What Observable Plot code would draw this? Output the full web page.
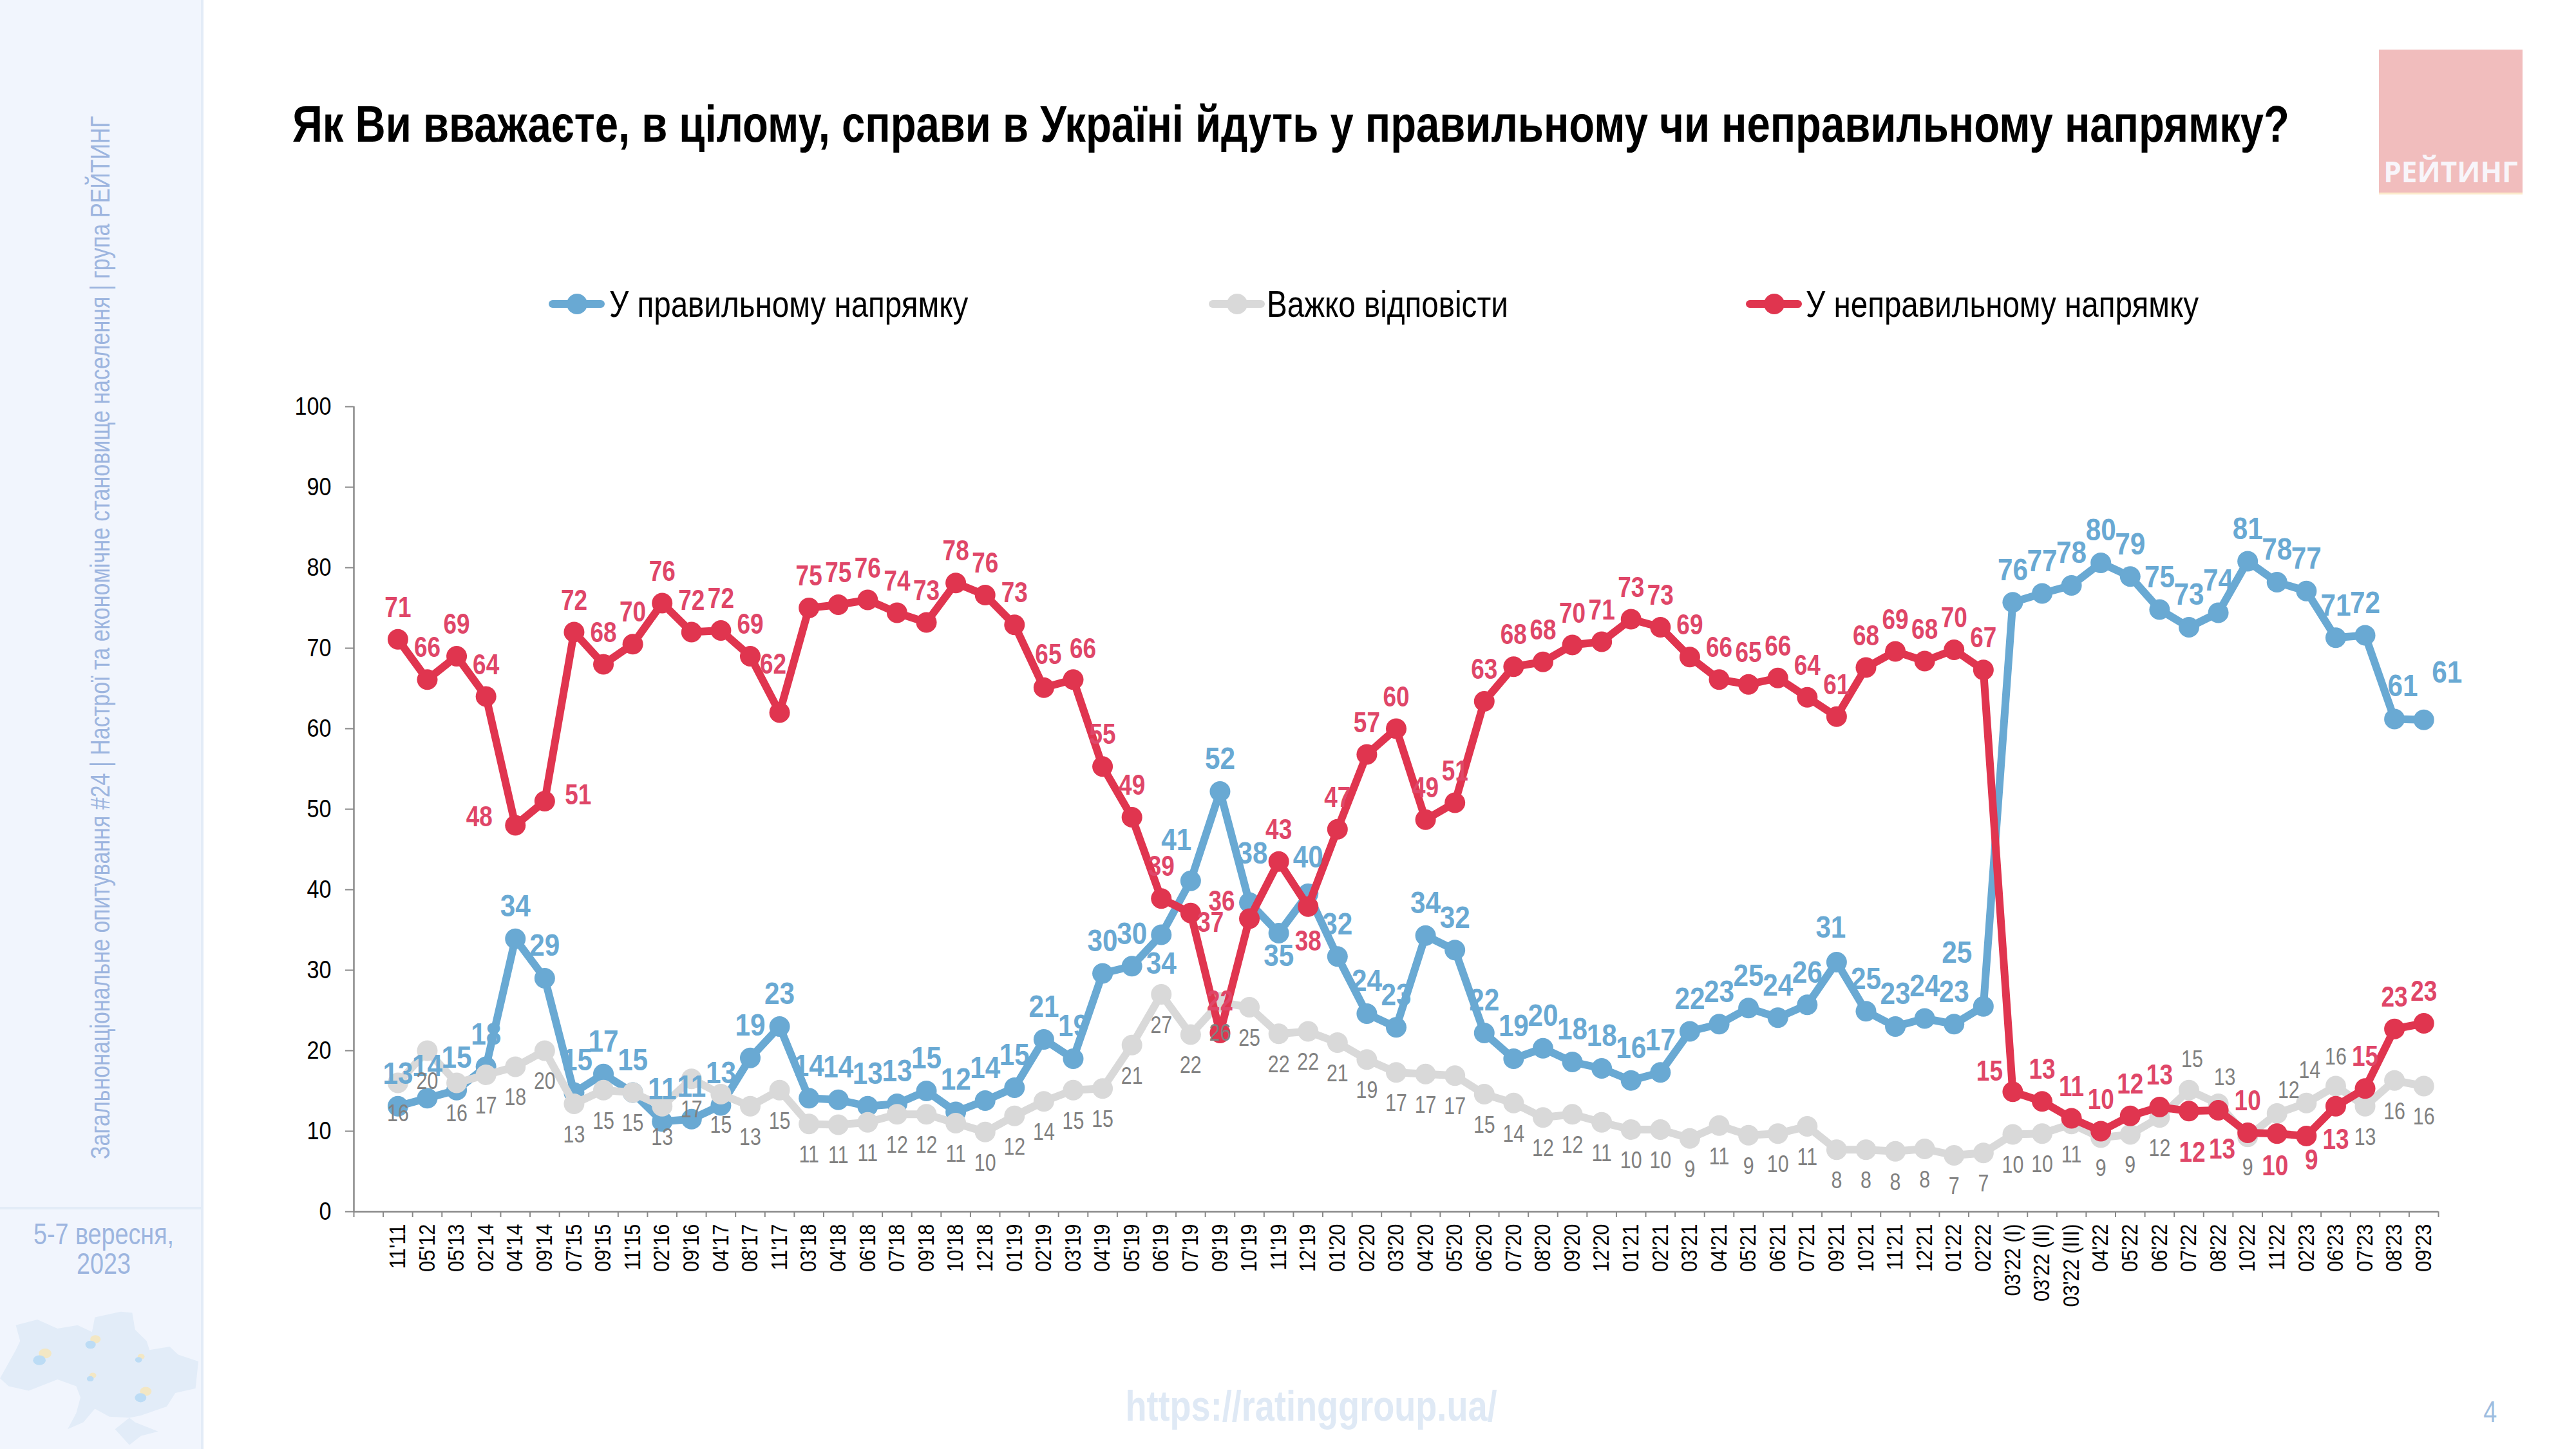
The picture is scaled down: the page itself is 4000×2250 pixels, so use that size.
<!DOCTYPE html>
<html>
<head>
<meta charset="utf-8">
<script src="https://cdn.jsdelivr.net/npm/d3@7"></script>
<script src="https://cdn.jsdelivr.net/npm/@observablehq/plot@0.6"></script>
<style>
  html, body { margin: 0; padding: 0; background: #fff; }
  body { width: 4000px; height: 2250px; position: relative; overflow: hidden; font-family: "Liberation Sans", sans-serif; }
  .abs { position: absolute; white-space: nowrap; }
  .narrow { transform-origin: left center; transform: scaleX(0.82); }
  #plot { position: absolute; left: 0; top: 600px; }
  #side { position: absolute; left: 0; top: 0; width: 312px; height: 2250px; background: #f1f5fd; border-right: 4px solid #e3ecf7; }
  #rule { position: absolute; left: 0; top: 1874px; width: 312px; height: 4px; background: #e3ecf7; }
  .swatch { position: absolute; width: 87px; height: 12px; top: 466px; border-radius: 6px; }
  .swatch i { position: absolute; left: 28px; top: -10px; width: 32px; height: 32px; border-radius: 50%; background: inherit; }
  .legend { top: 439px; font-size: 58px; line-height: 66px; color: #000; }
</style>
</head>
<body>
<div id="side"></div>
<div id="rule"></div>
<div class="abs" style="left:156px; top:990px; font-size:42px; color:#9db5df; transform:translate(-50%,-50%) rotate(-90deg) scaleX(0.81);">Загальнонаціональне опитування #24 | Настрої та економічне становище населення | група РЕЙТИНГ</div>
<div class="abs" style="left:0; width:322px; top:1893px; text-align:center; font-size:46px; line-height:46px; color:#9db5df; transform:scaleX(0.82);">5-7 вересня,<br>2023</div>
<svg class="abs" style="left:0; top:1700px;" width="700" height="550" viewBox="0 0 1568 1568" preserveAspectRatio="none">
  <path fill="#e2ecf8" d="M0 1255L55 1130L70 1090L55 1020L130 995L200 1035L270 1020L320 1050L330 985L420 960L460 965L470 1040L510 1090L520 1130L590 1115L620 1150L690 1180L680 1300L610 1320L580 1380L490 1420L450 1430L470 1450L550 1490L490 1510L450 1550L400 1480L450 1430L380 1425L330 1390L290 1450L235 1480L265 1410L280 1340L265 1290L200 1260L100 1310L30 1290Z"/>
  <ellipse cx="157" cy="1145" rx="22" ry="22" fill="#f3e7c4"/><ellipse cx="137" cy="1175" rx="22" ry="22" fill="#bcdcf5"/>
  <ellipse cx="332" cy="1082" rx="18" ry="18" fill="#f3e7c4"/><ellipse cx="315" cy="1106" rx="18" ry="18" fill="#bcdcf5"/>
  <ellipse cx="491" cy="1159" rx="12" ry="12" fill="#f3e7c4"/><ellipse cx="482" cy="1173" rx="12" ry="12" fill="#bcdcf5"/>
  <ellipse cx="323" cy="1242" rx="12" ry="12" fill="#f3e7c4"/><ellipse cx="314" cy="1257" rx="12" ry="12" fill="#bcdcf5"/>
  <ellipse cx="507" cy="1313" rx="20" ry="20" fill="#f3e7c4"/><ellipse cx="489" cy="1341" rx="20" ry="20" fill="#bcdcf5"/>
</svg>

<div class="abs" style="left:454px; top:148px; font-size:80px; line-height:90px; font-weight:bold; color:#000; transform-origin:left center; transform:scaleX(0.815);">Як Ви вважаєте, в цілому, справи в Україні йдуть у правильному чи неправильному напрямку?</div>

<div class="abs" style="left:3694px; top:77px; width:223px; height:222px; background:#f1bdbd; border-bottom:3px solid #fcebcb;"></div>
<div class="abs" style="left:3694px; width:223px; top:241px; text-align:center; font-family:'Open Sans',sans-serif; font-weight:bold; font-size:44px; line-height:50px; color:#f8f5fa;">РЕЙТИНГ</div>

<div class="swatch" style="left:852px; background:#69a9d3;"><i></i></div>
<div class="abs narrow legend" style="left:946px;">У правильному напрямку</div>
<div class="swatch" style="left:1877px; background:#d9d9d9;"><i></i></div>
<div class="abs narrow legend" style="left:1967px;">Важко відповісти</div>
<div class="swatch" style="left:2711px; background:#e0354f;"><i></i></div>
<div class="abs narrow legend" style="left:2804px;">У неправильному напрямку</div>

<div id="plot"></div>

<div class="abs" style="left:2036px; top:2147px; transform:translateX(-50%) scaleX(0.82); font-size:66px; line-height:72px; font-weight:bold; color:#dfe9f5;">https://ratinggroup.ua/</div>
<div class="abs" style="left:3854px; top:2167px; font-size:46px; line-height:50px; color:#9dbde0; transform:scaleX(0.82);">4</div>

<script>
const periods = [
  "11'11", "05'12", "05'13", "02'14", "04'14", "09'14", "07'15", "09'15", "11'15", "02'16",
  "09'16", "04'17", "08'17", "11'17", "03'18", "04'18", "06'18", "07'18", "09'18", "10'18",
  "12'18", "01'19", "02'19", "03'19", "04'19", "05'19", "06'19", "07'19", "09'19", "10'19",
  "11'19", "12'19", "01'20", "02'20", "03'20", "04'20", "05'20", "06'20", "07'20", "08'20",
  "09'20", "12'20", "01'21", "02'21", "03'21", "04'21", "05'21", "06'21", "07'21", "09'21",
  "10'21", "11'21", "12'21", "01'22", "02'22", "03'22 (I)", "03'22 (II)", "03'22 (III)", "04'22", "05'22",
  "06'22", "07'22", "08'22", "10'22", "11'22", "02'23", "06'23", "07'23", "08'23", "09'23"
];

const rightValues = [
  13.1, 14.1, 15.1, 18, 33.9, 29, 14.8, 17.1, 14.8, 11.2, 11.5, 13.2, 19.1, 23, 14.1, 13.9, 13.1, 13.4,
  15, 12.4, 13.8, 15.4, 21.4, 19, 29.6, 30.5, 34.4, 41.1, 52.2, 38.4, 34.6, 39.5, 31.7, 24.6, 22.9, 34.3, 32.5, 22.2, 19, 20.3,
  18.6, 17.8, 16.3, 17.3, 22.4, 23.3, 25.3, 24.1, 25.7, 31, 24.9, 23, 24, 23.3, 25.5,
  75.7, 76.8, 77.8, 80.6, 78.9, 74.8, 72.6, 74.4, 80.8, 78.2, 77.1, 71.3, 71.6, 61.2, 61.1
];
const rightLabels = [
  13, 14, 15, 18, 34, 29, 15, 17, 15, 11, 11, 13, 19, 23, 14, 14, 13, 13,
  15, 12, 14, 15, 21, 19, 30, 30, 34, 41, 52, 38, 35, 40, 32, 24, 23, 34, 32, 22, 19, 20,
  18, 18, 16, 17, 22, 23, 25, 24, 26, 31, 25, 23, 24, 23, 25,
  76, 77, 78, 80, 79, 75, 73, 74, 81, 78, 77, 71, 72, 61, 61
];

const hardValues = [
  16, 20, 16, 17, 18, 20, 13.4, 15.1, 14.8, 13.1, 16.5, 14.6, 13.1, 15.1, 10.9, 10.8, 11.1, 12.1,
  12.1, 11, 9.9, 11.9, 13.7, 15.1, 15.3, 20.7, 27, 22, 26, 25.4, 22.1, 22.4, 21, 18.9, 17.3, 17.1, 16.9, 14.6, 13.5, 11.7,
  12.1, 11.1, 10.2, 10.2, 9.1, 10.7, 9.5, 9.7, 10.6, 7.7, 7.7, 7.5, 7.8, 7, 7.3,
  9.6, 9.7, 10.9, 9.2, 9.6, 11.7, 15.1, 13.4, 9.3, 12.2, 13.5, 15.6, 13.1, 16.3, 15.6
];
const hardLabels = [
  16, 20, 16, 17, 18, 20, 13, 15, 15, 13, 17, 15, 13, 15, 11, 11, 11, 12,
  12, 11, 10, 12, 14, 15, 15, 21, 27, 22, 26, 25, 22, 22, 21, 19, 17, 17, 17, 15, 14, 12,
  12, 11, 10, 10, 9, 11, 9, 10, 11, 8, 8, 8, 8, 7, 7,
  10, 10, 11, 9, 9, 12, 15, 13, 9, 12, 14, 16, 13, 16, 16
];

const wrongValues = [
  71.1, 66.1, 69, 64, 48, 51, 72, 68, 70.5, 75.6, 72, 72.2, 69, 62, 75, 75.4, 76, 74.4,
  73.2, 78.1, 76.6, 72.9, 65.1, 66.1, 55.3, 49, 38.9, 37.1, 22.2, 36.4, 43.5, 37.9, 47.5, 56.8, 60, 48.7, 50.8, 63.4, 67.7, 68.3,
  70.4, 70.8, 73.6, 72.6, 68.9, 66.1, 65.5, 66.3, 63.9, 61.5, 67.6, 69.6, 68.4, 69.8, 67.3,
  14.9, 13.7, 11.6, 10, 11.9, 13, 12.5, 12.6, 9.8, 9.7, 9.4, 13.1, 15.3, 22.7, 23.4
];
const wrongLabels = [
  71, 66, 69, 64, 48, 51, 72, 68, 70, 76, 72, 72, 69, 62, 75, 75, 76, 74,
  73, 78, 76, 73, 65, 66, 55, 49, 39, 37, 22, 36, 43, 38, 47, 57, 60, 49, 51, 63, 68, 68,
  70, 71, 73, 73, 69, 66, 65, 66, 64, 61, 68, 69, 68, 70, 67,
  15, 13, 11, 10, 12, 13, 12, 13, 10, 10, 9, 13, 15, 23, 23
];

// labels the original moved by hand, [dx, dy] in px from the default spot
const rightShifts = {
  "07'15": [5, -50], "06'19": [0, 45], "07'19": [-22, -63], "10'19": [5, -76], "11'19": [0, 36],
  "12'19": [0, -56], "09'21": [-9, -53], "02'22": [-41, -83], "08'23": [13, -51], "09'23": [36, -73]
};
const hardShifts = {
  "07'22": [5, -48], "08'22": [10, -41], "11'22": [18, -36], "02'23": [5, -51], "06'23": [0, -45]
};
const wrongShifts = {
  "04'14": [-56, -13], "09'14": [52, -9], "11'17": [-10, -75], "02'19": [7, -51], "03'19": [15, -47],
  "07'19": [31, 15], "10'19": [-43, -27], "12'19": [0, 54], "03'22 (I)": [-36, -31],
  "07'22": [5, 65], "08'22": [6, 61], "11'22": [-3, 51], "02'23": [8, 38], "06'23": [0, 52]
};

const series = [
  { values: rightValues, labels: rightLabels, shifts: rightShifts, color: "#69a9d3", text: "#69a9d3", size: 48, weight: "bold", dy: -50 },
  { values: hardValues, labels: hardLabels, shifts: hardShifts, color: "#d9d9d9", text: "#808080", size: 37, weight: "normal", dy: 48 },
  { values: wrongValues, labels: wrongLabels, shifts: wrongShifts, color: "#e0354f", text: "#df4668", size: 44, weight: "bold", dy: -49 }
];

const toRows = (s) => periods.map((p, i) => ({ period: p, slot: i + 1.5, value: s.values[i], label: s.labels[i] }));

const labelMarks = (s) => toRows(s).map((d) => {
  const [dx, dy] = s.shifts[d.period] ?? [0, s.dy];
  return Plot.text([d], {
    x: "slot", y: "value", text: "label", dx, dy,
    fill: s.text, fontSize: s.size, fontWeight: s.weight
  });
});

const chart = Plot.plot({
  width: 4000,
  height: 1650,
  marginLeft: 549,
  marginRight: 214,
  marginTop: 31,
  marginBottom: 369,
  style: { background: "transparent", fontFamily: "Liberation Sans" },
  x: { type: "linear", domain: [0, periods.length + 1], axis: null },
  y: { domain: [0, 100], axis: null },
  marks: [
    Plot.axisY({ ticks: d3.range(0, 101, 10), label: null, tickSize: 13, tickPadding: 22, stroke: "#898989", strokeWidth: 2, fontSize: 38, fill: "#000" }),
    Plot.axisX({ ticks: d3.range(0, periods.length + 2), label: null, tickSize: 9, stroke: "#898989", strokeWidth: 2, tickFormat: () => "" }),
    Plot.ruleX([0], { stroke: "#898989", strokeWidth: 2.5 }),
    Plot.ruleY([0], { stroke: "#898989", strokeWidth: 2.5 }),
    Plot.text(periods, {
      x: (d, i) => i + 1.5, y: () => 0, text: (d) => d, rotate: -90, textAnchor: "end",
      dy: 19, fontSize: 35, fill: "#000"
    }),
    ...series.flatMap((s) => [
      Plot.line(toRows(s), { x: "slot", y: "value", stroke: s.color, strokeWidth: 12, strokeLinejoin: "round", strokeLinecap: "round" }),
      Plot.dot(toRows(s), { x: "slot", y: "value", r: 16, fill: s.color })
    ]),
    ...series.flatMap(labelMarks)
  ]
});

// the source uses Arial Narrow, which is not installed: squeeze the text instead
const squeezeBySize = { 38: 0.9, 35: 0.88, 48: 0.88, 44: 0.84, 37: 0.82 };
chart.querySelectorAll("text").forEach((t) => {
  const size = t.closest("[font-size]")?.getAttribute("font-size");
  t.setAttribute("transform", `${t.getAttribute("transform") ?? ""} scale(${squeezeBySize[size] ?? 0.82},1)`);
});

document.getElementById("plot").appendChild(chart);
</script>
</body>
</html>
